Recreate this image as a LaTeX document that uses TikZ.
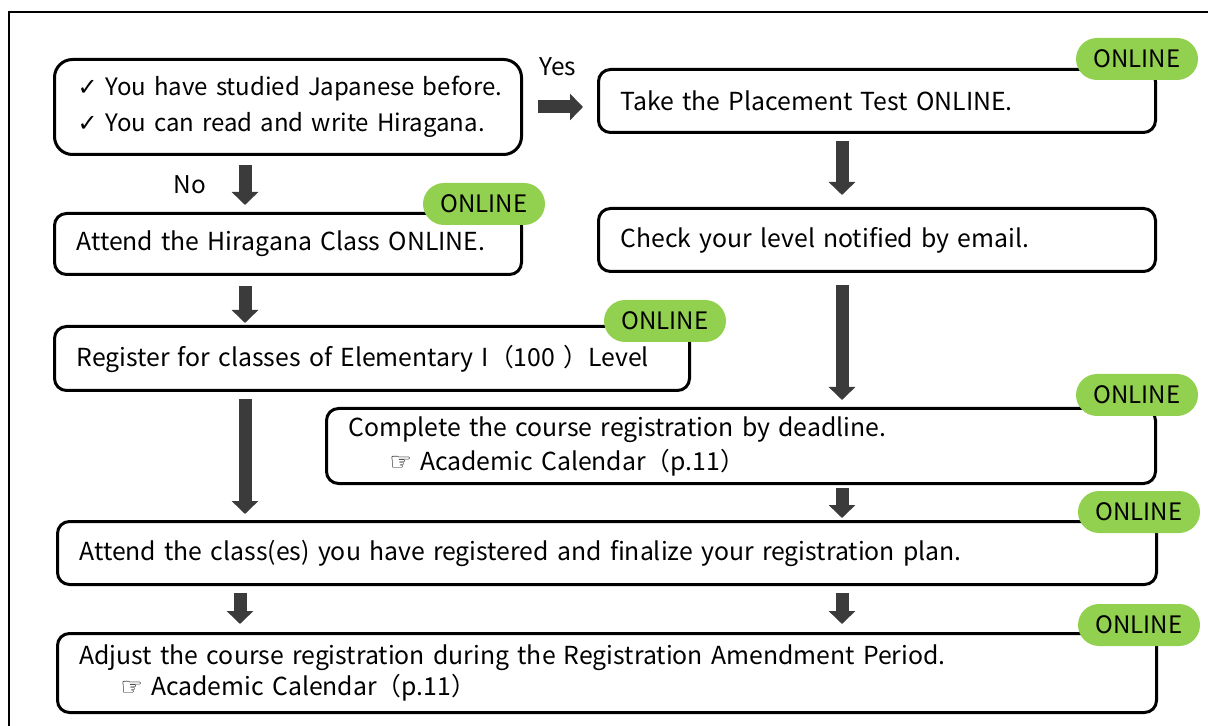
\documentclass[tikz,border=0pt]{standalone}
\usepackage{fontspec}
\setmainfont{Noto Sans CJK JP}
\newfontfamily\symfont{DejaVu Sans}
\usepackage{xcolor}
\usetikzlibrary{positioning,calc,arrows.meta}
\definecolor{tagGreen}{HTML}{92D050}
\definecolor{arrowGray}{HTML}{3B3B3B}

\begin{document}
\begin{tikzpicture}[x=0.5pt, y=-0.5pt,
    flow box/.style={rectangle, draw, line width=1.5pt, rounded corners=6pt, align=left, anchor=north west, inner xsep=11pt, inner ysep=0pt, font=\fontsize{12.4}{16.5}\selectfont},
    online tag/.style={rectangle, fill=tagGreen, rounded corners=10.5pt, minimum width=61pt, minimum height=21pt, inner sep=0pt, font=\fontsize{12}{14}\selectfont},
    flow label/.style={inner sep=0pt, font=\fontsize{12.2}{14}\selectfont},
    flow arrow/.style={draw=arrowGray, line width=6.5pt, -{Triangle[length=6.5pt, width=13pt]}, shorten <=3.5pt, shorten >=3.5pt}]

    \useasboundingbox (0,0) rectangle (1208,726);
    \draw [line width=1pt] (9,726) -- (9,12) -- (1208,12);

    \coordinate (colL) at (245,0);
    \coordinate (colLb) at (240,0);
    \coordinate (colR) at (842,0);

    \node [flow box, text width=210.5pt, inner xsep=11.5pt, minimum height=47.5pt, rounded corners=9pt, font=\fontsize{12}{18}\selectfont] (q) at (53,58) {\mbox{{\symfont ✓} You have studied Japanese before.}\\\mbox{{\symfont ✓} You can read and write Hiragana.}};
    \node [flow box, text width=256.5pt, minimum height=31.5pt] (plc) at (597,68) {\mbox{Take the Placement Test ONLINE.}};
    \node [flow box, text width=256.5pt, minimum height=31.5pt] (lvl) at (597,207) {\mbox{Check your level notified by email.}};
    \node [flow box, text width=211.5pt, minimum height=30.5pt] (hira) at (53,212) {\mbox{Attend the Hiragana Class ONLINE.}};
    \node [flow box, text width=295.5pt, minimum height=32pt] (reg) at (53,325) {\mbox{Register for classes of Elementary I（100 ）Level}};
    \node [flow box, text width=392.5pt, minimum height=37.5pt, font=\fontsize{12.4}{17}\selectfont] (cmp) at (325,407) {Complete the course registration by deadline.\\\hspace*{20.5pt}{\symfont ☞} Academic Calendar（p.11）};
    \node [flow box, text width=527.5pt, minimum height=31.5pt] (att) at (56,520) {\mbox{Attend the class(es) you have registered and finalize your registration plan.}};
    \node [flow box, text width=527.5pt, minimum height=39.5pt, font=\fontsize{12.4}{15.5}\selectfont] (adj) at (56,632) {\mbox{Adjust the course registration during the Registration Amendment Period.}\\\hspace*{20.5pt}{\symfont ☞} Academic Calendar（p.11）};

    \node [online tag] (tplc) at (1137,59) {ONLINE};
    \node [online tag] (thira) at (484,204) {ONLINE};
    \node [online tag] (treg) at (665,321) {ONLINE};
    \node [online tag] (tcmp) at (1137,395) {ONLINE};
    \node [online tag] (tatt) at (1139,512) {ONLINE};
    \node [online tag] (tadj) at (1139,625) {ONLINE};

    \draw [flow arrow, shorten <=7.5pt, shorten >=7pt] (q.east) -- (q.east -| plc.west);
    \node [flow label] (yes) at (558,67) {Yes};
    \draw [flow arrow, shorten <=4.5pt] (q.south -| colL) -- (hira.north -| colL);
    \node [flow label] (no) at (190,185) {No};

    \draw [flow arrow, shorten >=6pt] (plc.south -| colR) -- (lvl.north -| colR);
    \draw [flow arrow, shorten <=6pt] (lvl.south -| colR) -- (cmp.north -| colR);
    \draw [flow arrow, shorten <=1.5pt, shorten >=1pt] (cmp.south -| colR) -- (att.north -| colR);
    \draw [flow arrow, shorten <=5pt, shorten >=1pt] (hira.south -| colL) -- (reg.north -| colL);
    \draw [flow arrow, shorten >=3pt] (reg.south -| colL) -- (att.north -| colL);
    \draw [flow arrow, shorten >=4pt] (att.south -| colLb) -- (adj.north -| colLb);
    \draw [flow arrow, shorten >=4pt] (att.south -| colR) -- (adj.north -| colR);

\end{tikzpicture}
\end{document}
